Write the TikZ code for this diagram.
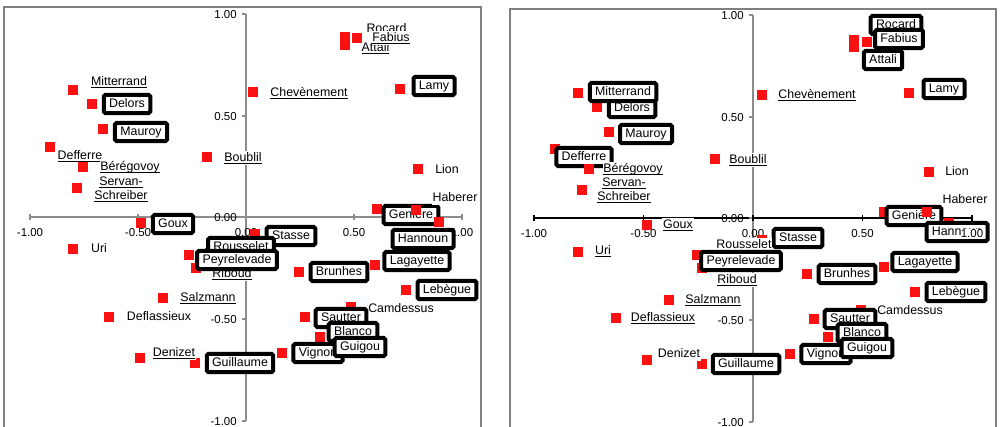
\documentclass[tikz,border=0pt]{standalone}
\usepackage{fontspec}
\setmainfont{Liberation Sans}
\definecolor{sqred}{RGB}{250,18,18}
\definecolor{framegray}{RGB}{128,128,128}
\definecolor{axisgray}{RGB}{140,140,140}
\newcommand\lab{\fontsize{9.3}{10.5}\selectfont}
\newcommand\ticklab{\fontsize{8.6}{10}\selectfont}
% underline at a fixed distance below the baseline
\newcommand\undl[1]{\setbox0\hbox{#1}\rlap{\rule[-1.8pt]{\wd0}{0.75pt}}\box0}
% one person: red marker plus its label
\newcommand\member[5]{%
  \node[sq] (#1s) at (#2) {};
  \node[#4] (#1t) at (#3) {#5};}
\tikzset{
  sq/.style={fill=sqred, minimum size=8.2pt, inner sep=0pt},
  plain/.style={fill=white, inner sep=0.6pt, font=\lab, text height=6.8pt, text depth=1.9pt},
  twoline/.style={fill=white, inner sep=0.6pt, font=\lab, align=center},
  boxed/.style={plain, draw=black, line width=3pt, rounded corners=1.2pt,
                inner xsep=4pt, minimum height=13.6pt},
  frameline/.style={draw=framegray, line width=0.8pt},
  axisline/.style={draw=axisgray, line width=0.8pt},
  ticktext/.style={font=\ticklab, inner sep=0pt, text height=6.2pt, text depth=0pt},
}
\begin{document}
\begin{tikzpicture}[x=0.75pt, y=-0.75pt]
\path[use as bounding box, fill=white] (0,0) rectangle (1002,427);

% ---------------- left chart ----------------
\draw[frameline] (4,427) -- (4,7) -- (481,7) -- (481,427);
\coordinate (Lvt) at (246,14);
\coordinate (Lvb) at (246,421);
\coordinate (Lhl) at (30,217);
\coordinate (Lhr) at (462,217);
\draw[axisline] (Lvt) -- (Lvb);
\draw[axisline] (Lhl) -- (Lhr);
\foreach \y in {14,116,217,319,421} \draw[axisline] (242,\y) -- (246,\y);
\foreach \x in {30,138,246,354,462} \draw[axisline] (\x,214) -- (\x,220);
\foreach \y/\t in {14/1.00,116/0.50,217/0.00,319/-0.50,421/-1.00}
  \node[ticktext, anchor=east] (Lyt\y) at (237,\y) {\t};
\foreach \x/\t in {30/-1.00,138/-0.50,246/0.00,354/0.50,462/1.00}
  \node[ticktext] (Lxt\x) at (\x,232) {\t};

\member{LMit}{73,90}{119,82}{plain}{\undl{Mitterrand}}
\member{LDel}{92,104}{127,104}{boxed}{Delors}
\member{LMau}{103,129}{141,132}{boxed}{Mauroy}
\member{LDef}{50,147}{80,156}{plain}{\undl{Defferre}}
\member{LBer}{83,167}{130,167}{plain}{\undl{Bérégovoy}}
\member{LSer}{77,188}{121,189}{twoline}{\undl{Servan-}\\\undl{Schreiber}}
\member{LBou}{207,157}{243,158}{plain}{\undl{Boublil}}
\member{LChe}{253,92}{309,93}{plain}{\undl{Chevènement}}
\member{LRoc}{345,37}{386.5,29}{plain}{Rocard}
\member{LAtt}{345,45}{375.5,48}{plain}{\undl{Attali}}
\member{LFab}{357,38}{391,38}{plain}{\undl{Fabius}}
\member{LLam}{400,89}{434,86}{boxed}{Lamy}
\member{LLio}{418,169}{447,170}{plain}{Lion}
\member{LGen}{377,209}{411,215}{boxed}{Genière}
\member{LHab}{416,210}{455,198}{plain}{Haberer}
\member{LHan}{439,222}{423,239}{boxed}{Hannoun}
\member{LLag}{375,265}{417,261}{boxed}{Lagayette}
\member{LLeb}{406,290}{447,290}{boxed}{Lebègue}
\member{LBru}{299,272}{339,272}{boxed}{Brunhes}
\member{LCam}{351,307}{401,309}{plain}{Camdessus}
\member{LSau}{305,317}{341,318}{boxed}{Sautter}
\member{LBla}{320,337}{353,332}{boxed}{Blanco}
\member{LVig}{282,353}{318,353}{boxed}{Vignon}
\member{LGui}{345,348}{360,347}{boxed}{Guigou}
\member{LGul}{195,363}{240,363}{boxed}{Guillaume}
\member{LDen}{140,358}{174,353}{plain}{\undl{Denizet}}
\member{LDfl}{109,317}{159,317}{plain}{Deflassieux}
\member{LSal}{163,298}{208,298}{plain}{\undl{Salzmann}}
\member{LUri}{73,249}{99,249}{plain}{Uri}
\member{LGou}{141,223}{173,224}{boxed}{Goux}
\member{LSta}{255,234}{291,236}{boxed}{Stasse}
\member{LRib}{196,268}{232,274}{plain}{\undl{Riboud}}
\member{LRou}{210,253}{241,247}{boxed}{Rousselet}
\member{LPey}{189,255}{237,260}{boxed}{Peyrelevade}

% ---------------- right chart ----------------
\draw[frameline] (510,427) -- (510,9) -- (996,9) -- (996,427);
\coordinate (Rvt) at (753,15);
\coordinate (Rvb) at (753,422);
\coordinate (Rhl) at (534,218);
\coordinate (Rhr) at (972,218);
\draw[axisline] (Rvt) -- (Rvb);
\draw[black, line width=0.8pt] (Rhl) -- (Rhr);
\foreach \y in {15,117,218,320,422} \draw[axisline] (749,\y) -- (753,\y);
\foreach \x in {534,643.5,753,862.5,972} \draw[black, line width=0.8pt] (\x,215) -- (\x,221);
\foreach \y/\t in {15/1.00,117/0.50,218/0.00,320/-0.50,422/-1.00}
  \node[ticktext, anchor=east] (Ryt\y) at (744,\y) {\t};
\foreach \x/\t in {534/-1.00,643.5/-0.50,753/0.00,862.5/0.50}
  \node[ticktext] (Rxt\x) at (\x,233) {\t};

\member{RDel}{597,107}{632,108}{boxed}{Delors}
\member{RMit}{578,93}{623,92}{boxed}{Mitterrand}
\member{RMau}{609,132}{646,134}{boxed}{Mauroy}
\member{RDef}{555,149}{584,157}{boxed}{Defferre}
\member{RBer}{589,169}{633,169}{plain}{\undl{Bérégovoy}}
\member{RSer}{582,190}{624,190}{twoline}{\undl{Servan-}\\\undl{Schreiber}}
\member{RBou}{715,159}{748,160}{plain}{\undl{Boublil}}
\member{RChe}{762,95}{817,95}{plain}{\undl{Chevènement}}
\member{RRoc}{854,40}{896,25}{boxed}{Rocard}
\member{RAtt}{854,47}{883,60}{boxed}{Attali}
\member{RFab}{867,42}{899,39}{boxed}{Fabius}
\member{RLam}{909,93}{944,89}{boxed}{Lamy}
\member{RLio}{929,172}{957,172}{plain}{Lion}
\member{RGen}{884,212}{914,216}{boxed}{Genière}
\member{RHab}{927,212}{965,200}{plain}{Haberer}
\member{RHan}{949,223}{957,232}{boxed}{Hannoun}
\node[ticktext, fill=white] (Rxt972) at (972,233) {1.00};
\member{RLag}{884,267}{925,262}{boxed}{Lagayette}
\member{RLeb}{915,292}{956,292}{boxed}{Lebègue}
\member{RBru}{807,274}{847,274}{boxed}{Brunhes}
\member{RCam}{861,310}{910,311}{plain}{Camdessus}
\member{RSau}{814,319}{850,319}{boxed}{Sautter}
\member{RBla}{828,337}{862,333}{boxed}{Blanco}
\member{RVig}{790,354}{826,354}{boxed}{Vignon}
\member{RGui}{852,349}{867,348}{boxed}{Guigou}
\member{RGul}{702,364}{746,364}{boxed}{Guillaume}
\member{RDen}{647,360}{679,354}{plain}{Denizet}
\member{RDfl}{616,318}{663,318}{plain}{\undl{Deflassieux}}
\member{RSal}{669,300}{713,300}{plain}{\undl{Salzmann}}
\member{RUri}{578,252}{603,251}{plain}{\undl{Uri}}
\member{RGou}{647,225}{678,225}{plain}{\undl{Goux}}
\member{RSta}{762,240}{798,238}{boxed}{Stasse}
\member{RRou}{717,259}{744,245}{plain}{\undl{Rousselet}}
\member{RRib}{702,268}{737,280}{plain}{\undl{Riboud}}
\member{RPey}{697,255}{741,261}{boxed}{Peyrelevade}
\end{tikzpicture}
\end{document}
